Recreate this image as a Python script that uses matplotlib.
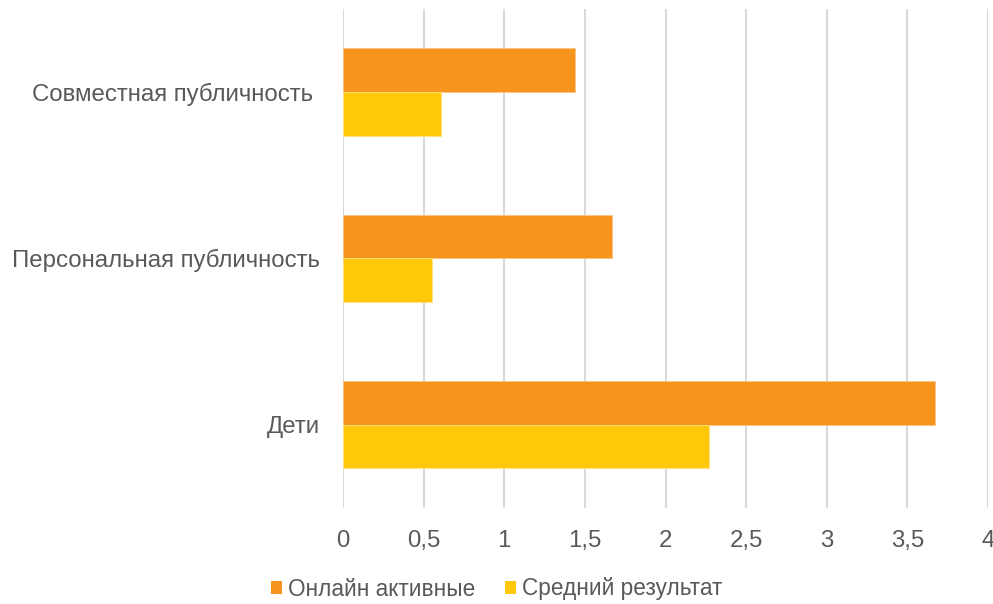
import matplotlib
matplotlib.use("Agg")
import matplotlib.pyplot as plt
import numpy as np

categories = ["Дети", "Персональная публичность", "Совместная публичность "]
online_active = [3.67, 1.67, 1.44]
average_result = [2.27, 0.55, 0.61]
series_names = ["Онлайн активные", "Средний результат"]
xticks = [0, 0.5, 1, 1.5, 2, 2.5, 3, 3.5, 4]
xtick_labels = ["0", "0,5", "1", "1,5", "2", "2,5", "3", "3,5", "4"]

plt.rcParams['font.family'] = ['Liberation Sans', 'DejaVu Sans']
text_color = "#595959"
c_orange = "#F7941E"
c_yellow = "#FFC90A"
fs = 17.3

W, H = 993, 604
fig = plt.figure(figsize=(W / 100, H / 100), dpi=100)
left, right, top, bottom = 343, 988, 8.75, 508
ax = fig.add_axes([left / W, 1 - bottom / H, (right - left) / W, (bottom - top) / H])

y = np.arange(len(categories)) + 0.5
h = 0.262
ax.barh(y + h / 2, online_active, height=h, color=c_orange, edgecolor="#FBC38A", linewidth=0.6,
        label=series_names[0], zorder=3)
ax.barh(y - h / 2, average_result, height=h, color=c_yellow, edgecolor="#FFE080", linewidth=0.6,
        label=series_names[1], zorder=3)

ax.set_xlim(0, 4)
ax.set_ylim(0, 3)
ax.set_xticks(xticks)
ax.set_xticklabels(xtick_labels)
ax.set_yticks(y)
ax.set_yticklabels(categories)
ax.tick_params(axis="both", length=0, labelsize=fs, colors=text_color)
ax.tick_params(axis="y", pad=16.5)
ax.tick_params(axis="x", pad=16)
for s in ax.spines.values():
    s.set_visible(False)
ax.grid(axis="x", color="#D9D9D9", linewidth=1.5, zorder=0)
ax.set_axisbelow(True)

leg = fig.legend(loc="center", bbox_to_anchor=(496.5 / W, 1 - 589 / H), ncol=2, frameon=False,
                 fontsize=16.3, handlelength=0.5, handleheight=0.5, handletextpad=0.25,
                 columnspacing=1.3, labelcolor=text_color)
for p in leg.get_patches():
    p.set_linewidth(0)

fig.savefig("out.png", dpi=100)
